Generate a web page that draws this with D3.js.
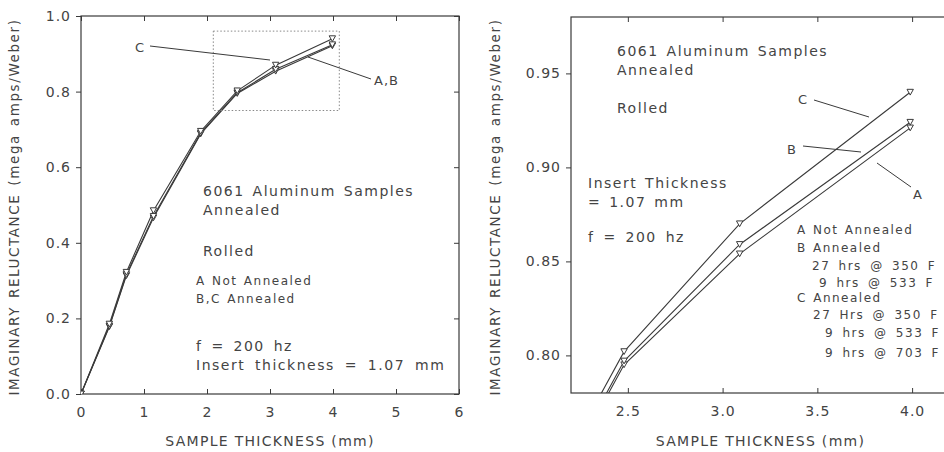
<!DOCTYPE html>
<html>
<head>
<meta charset="utf-8">
<script src="https://cdn.jsdelivr.net/npm/d3@7"></script>
<style>
  html, body { margin: 0; padding: 0; background: #fff; }
  svg text { font-family: "DejaVu Sans", sans-serif; fill: #444; }
</style>
</head>
<body>
<svg id="chart" width="944" height="452"></svg>
<script>
// ---- Data ----
const thickness = [0, 0.45, 0.72, 1.15, 1.9, 2.48, 3.09, 3.99];
const seriesA = [0, 0.178, 0.313, 0.466, 0.688, 0.795, 0.854, 0.921];
const seriesB = [0, 0.180, 0.316, 0.470, 0.690, 0.797, 0.859, 0.924];
const seriesC = [0, 0.185, 0.322, 0.485, 0.695, 0.802, 0.870, 0.940];
const seriesNames = ["A", "B", "C"];

const leftXTicks = [0, 1, 2, 3, 4, 5, 6];
const leftYTicks = [0, 0.2, 0.4, 0.6, 0.8, 1.0];
const rightXTicks = [2.5, 3.0, 3.5, 4.0];
const rightYTicks = [0.80, 0.85, 0.90, 0.95];
const zoomBoxX = [2.1, 4.1];
const zoomBoxY = [0.75, 0.96];

const leftNotes = ["6061 Aluminum Samples", "Annealed", "Rolled"];
const leftLegend = ["A Not Annealed", "B,C Annealed"];
const leftConditions = ["f = 200 hz", "Insert thickness = 1.07 mm"];
const rightNotes = ["6061 Aluminum Samples", "Annealed", "Rolled", "Insert Thickness", " = 1.07 mm", "f = 200 hz"];
const rightLegend = ["A Not Annealed", "B Annealed", "27 hrs @ 350 F", "9 hrs @ 533 F", "C Annealed", "27 Hrs @ 350 F", "9 hrs @ 533 F", "9 hrs @ 703 F"];
const xLabel = "SAMPLE THICKNESS (mm)";
const yLabel = "IMAGINARY RELUCTANCE (mega amps/Weber)";

const series = [seriesA, seriesB, seriesC].map((vals, i) => ({
  name: seriesNames[i],
  points: vals.map((v, j) => ({ x: thickness[j], y: v }))
}));

const ink = "#3a3a3a";
const svg = d3.select("#chart");

function tri(g, xs, ys, pts) {
  g.selectAll(null).data(pts).join("path")
    .attr("d", d => {
      const cx = xs(d.x), cy = ys(d.y), s = 3.2;
      return `M${cx - s},${cy - s * 0.9}L${cx + s},${cy - s * 0.9}L${cx},${cy + s * 0.9}Z`;
    })
    .attr("fill", "#fff").attr("stroke", ink).attr("stroke-width", 1);
}

function panel(opt) {
  const g = svg.append("g");
  const xs = d3.scaleLinear().domain(opt.xd).range(opt.xr);
  const ys = d3.scaleLinear().domain(opt.yd).range(opt.yr);
  const clipId = "clip" + opt.id;
  svg.append("clipPath").attr("id", clipId).append("rect")
    .attr("x", opt.xr[0]).attr("y", opt.yr[1])
    .attr("width", opt.xr[1] - opt.xr[0]).attr("height", opt.yr[0] - opt.yr[1]);

  g.append("rect").attr("x", opt.xr[0]).attr("y", opt.yr[1])
    .attr("width", opt.xr[1] - opt.xr[0]).attr("height", opt.yr[0] - opt.yr[1])
    .attr("fill", "none").attr("stroke", ink).attr("stroke-width", 1.2);

  const tk = 5;
  const bottom = g.append("g").attr("transform", `translate(0,${opt.yr[0]})`)
    .call(d3.axisBottom(xs).tickValues(opt.xt).tickSizeInner(-tk).tickSizeOuter(0).tickPadding(13).tickFormat(opt.xf));
  const top = g.append("g").attr("transform", `translate(0,${opt.yr[1]})`)
    .call(d3.axisTop(xs).tickValues(opt.xt).tickSizeInner(-tk).tickSizeOuter(0).tickFormat(""));
  const left = g.append("g").attr("transform", `translate(${opt.xr[0]},0)`)
    .call(d3.axisLeft(ys).tickValues(opt.yt).tickSizeInner(tk).tickSizeOuter(0).tickPadding(5).tickFormat(opt.yf));
  const right = g.append("g").attr("transform", `translate(${opt.xr[1]},0)`)
    .call(d3.axisRight(ys).tickValues(opt.yt).tickSizeInner(-tk).tickSizeOuter(0).tickFormat(""));
  [bottom, top, left, right].forEach(a => {
    a.select(".domain").remove();
    a.selectAll("line").attr("stroke", ink).attr("stroke-width", 1);
    a.selectAll("text").attr("font-size", 14).attr("letter-spacing", 1)
      .attr("font-family", "DejaVu Sans").attr("fill", "#555");
  });

  g.append("text").attr("x", (opt.xr[0] + opt.xr[1]) / 2 + (opt.xlOff || 0)).attr("y", 446)
    .attr("text-anchor", "middle").attr("font-size", 14).attr("letter-spacing", 1.3).text(xLabel);
  g.append("text").attr("transform", `translate(${opt.ylx},${opt.yly}) rotate(-90)`)
    .attr("text-anchor", "middle").attr("font-size", 13.5).attr("letter-spacing", 1.6)
    .attr("word-spacing", 2).text(yLabel);

  const line = d3.line().x(d => xs(d.x)).y(d => ys(d.y));
  const plot = g.append("g").attr("clip-path", `url(#${clipId})`);
  plot.selectAll(".ser").data(series).join("path")
    .attr("d", d => line(d.points)).attr("fill", "none")
    .attr("stroke", ink).attr("stroke-width", 1.1);
  series.forEach(s => tri(plot, xs, ys, s.points.filter(p => p.y > opt.yd[0] - 0.01)));
  return { g, xs, ys };
}

function txt(g, x, y, s, size, ls, ws) {
  g.append("text").attr("x", x).attr("y", y).attr("font-size", size)
    .attr("letter-spacing", ls).attr("word-spacing", ws || 0).text(s);
}

// ---- Left panel ----
const L = panel({ id: "L", xd: [0, 6], xr: [81, 459], yd: [0, 1.0], yr: [394, 16],
  xt: leftXTicks, yt: leftYTicks, xf: d3.format("d"), yf: d3.format(".1f"),
  ylx: 19, yly: 207, xlOff: 0 });

L.g.append("rect")
  .attr("x", L.xs(zoomBoxX[0])).attr("y", L.ys(zoomBoxY[1]))
  .attr("width", L.xs(zoomBoxX[1]) - L.xs(zoomBoxX[0]))
  .attr("height", L.ys(zoomBoxY[0]) - L.ys(zoomBoxY[1]))
  .attr("fill", "none").attr("stroke", "#888").attr("stroke-width", 1).attr("stroke-dasharray", "1.5,2");

txt(L.g, 203, 196, leftNotes[0], 14, 1.5, 2);
txt(L.g, 203, 215, leftNotes[1], 14, 1.5);
txt(L.g, 203, 256, leftNotes[2], 14, 1.5);
txt(L.g, 196, 285, leftLegend[0], 12, 1.5, 1);
txt(L.g, 196, 303, leftLegend[1], 12, 1.5, 1);
txt(L.g, 196, 351, leftConditions[0], 14, 1.5, 3);
txt(L.g, 196, 370, leftConditions[1], 14, 1.5, 4);

txt(L.g, 135, 52, "C", 13, 0);
L.g.append("line").attr("x1", 150).attr("y1", 46).attr("x2", 270).attr("y2", 60).attr("stroke", ink);
txt(L.g, 374, 85, "A,B", 13, 1);
L.g.append("line").attr("x1", 308).attr("y1", 57).attr("x2", 371).attr("y2", 79).attr("stroke", ink);

// ---- Right panel ----
const R = panel({ id: "R", xd: [2.2, 4.2], xr: [571, 950], yd: [0.78, 0.98], yr: [393, 17],
  xt: rightXTicks, yt: rightYTicks, xf: d3.format(".1f"), yf: d3.format(".2f"),
  ylx: 500, yly: 207, xlOff: 0 });

txt(R.g, 617, 56, rightNotes[0], 14, 1.5, 2);
txt(R.g, 617, 75, rightNotes[1], 14, 1.5);
txt(R.g, 617, 113, rightNotes[2], 14, 1.5);
txt(R.g, 588, 188, rightNotes[3], 14, 1.5, 2);
txt(R.g, 588, 207, rightNotes[4], 14, 1.5, 2);
txt(R.g, 588, 242, rightNotes[5], 14, 1.5, 3);

const legX = [797, 797, 812, 819, 797, 813, 825, 825];
const legY = [234, 252, 270, 287, 302, 319, 337, 357];
rightLegend.forEach((s, i) => txt(R.g, legX[i], legY[i], s, 12, 1.5, i >= 2 && i !== 4 ? 3 : 1));

txt(R.g, 798, 104, "C", 13, 0);
R.g.append("line").attr("x1", 814).attr("y1", 100).attr("x2", 869).attr("y2", 117).attr("stroke", ink);
txt(R.g, 787, 154, "B", 13, 0);
R.g.append("line").attr("x1", 803).attr("y1", 146).attr("x2", 861).attr("y2", 152).attr("stroke", ink);
txt(R.g, 913, 199, "A", 13, 0);
R.g.append("line").attr("x1", 877).attr("y1", 163).attr("x2", 911).attr("y2", 187).attr("stroke", ink);
</script>
</body>
</html>
